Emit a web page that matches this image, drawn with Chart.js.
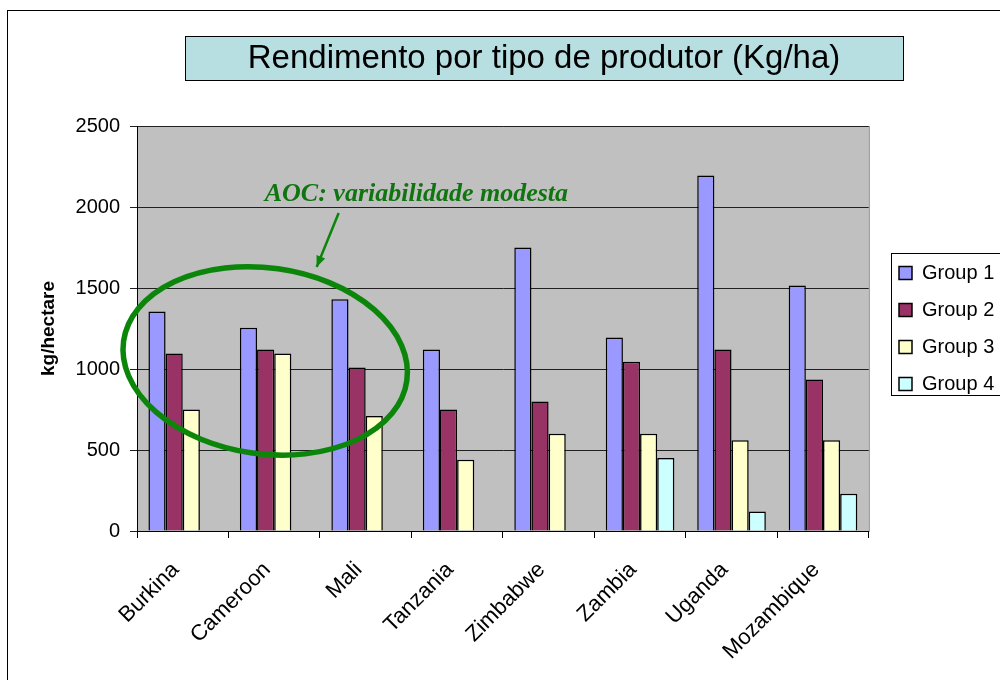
<!DOCTYPE html>
<html>
<head>
<meta charset="utf-8">
<script src="https://cdn.jsdelivr.net/npm/chart.js@4.4.0/dist/chart.umd.min.js"></script>
<style>
  html, body { margin: 0; padding: 0; background: #fff; }
  #wrap { width: 1000px; height: 680px; overflow: hidden; }
</style>
</head>
<body>
<div id="wrap"><canvas id="yieldChart" width="1000" height="680"></canvas></div>
<script>
// categorias e valores (kg/ha)
const countries = ['Burkina', 'Cameroon', 'Mali', 'Tanzania', 'Zimbabwe', 'Zambia', 'Uganda', 'Mozambique'];
const group1 = [1355, 1255, 1430, 1120, 1750, 1195, 2195, 1515];
const group2 = [1095, 1120, 1010, 750, 800, 1045, 1120, 935];
const group3 = [750, 1095, 710, 440, 600, 600, 560, 560];
const group4 = [null, null, null, null, null, 450, 120, 230];
const seriesNames = ['Group 1', 'Group 2', 'Group 3', 'Group 4'];
const seriesColors = ['#9999FF', '#993366', '#FFFFCC', '#CCFFFF'];
const yTicks = [0, 500, 1000, 1500, 2000, 2500];

const chartTitle = 'Rendimento por tipo de produtor (Kg/ha)';
const yTitle = 'kg/hectare';
const noteText = 'AOC: variabilidade modesta';

const FONT = 'Arial, "Liberation Sans", sans-serif';
const GREEN = '#0B860B';

// fundo, moldura, título em caixa e caixa da legenda
const frame = {
    id: 'frame',
    afterLayout(chart) {
        // legenda um pouco afastada da área do gráfico
        const lg = chart.legend;
        const dx = 882 - lg.left;
        lg.left += dx;
        lg.right += dx;
    },
    beforeDraw(chart) {
        const ctx = chart.ctx;
        const a = chart.chartArea;
        ctx.save();
        ctx.fillStyle = '#fff';
        ctx.fillRect(0, 0, chart.width, chart.height);
        ctx.strokeStyle = '#000';
        ctx.lineWidth = 1;
        ctx.strokeRect(7.5, 10.5, 1100, 800);
        // área do gráfico
        ctx.fillStyle = '#C0C0C0';
        ctx.fillRect(a.left, a.top, a.right - a.left, a.bottom - a.top);
        ctx.strokeStyle = '#808080';
        ctx.strokeRect(a.left + 0.5, a.top + 0.5, a.right - a.left, a.bottom - a.top);
        // caixa do título
        ctx.fillStyle = '#B7DFE2';
        ctx.fillRect(185, 36, 718, 44);
        ctx.strokeStyle = '#000';
        ctx.strokeRect(185.5, 36.5, 718, 44);
        ctx.fillStyle = '#000';
        ctx.font = '33px ' + FONT;
        ctx.textAlign = 'center';
        ctx.textBaseline = 'middle';
        ctx.fillText(chartTitle, 544, 59);
        ctx.restore();
    },
    afterDraw(chart) {
        const ctx = chart.ctx;
        const boxes = chart.legend.legendHitBoxes;
        if (!boxes || !boxes.length) return;
        const first = boxes[0], last = boxes[boxes.length - 1];
        ctx.save();
        ctx.strokeStyle = '#000';
        ctx.lineWidth = 1;
        const top = Math.round(first.top - 10) + 0.5;
        const bottom = Math.round(last.top + last.height + 1) + 0.5;
        const left = Math.round(first.left - 8) + 0.5;
        ctx.strokeRect(left, top, 200, bottom - top);
        ctx.restore();
    }
};

// anotação: elipse, seta e texto em verde
const note = {
    id: 'note',
    afterDatasetsDraw(chart) {
        const ctx = chart.ctx;
        const x = chart.scales.x, y = chart.scales.y;
        const cx = x.getPixelForValue(1) - 9;
        const cy = y.getPixelForValue(1050);
        ctx.save();
        ctx.strokeStyle = GREEN;
        ctx.lineWidth = 5.5;
        ctx.beginPath();
        ctx.ellipse(cx, cy, 143, 93, 0.14, 0, Math.PI * 2);
        ctx.stroke();

        // seta
        const x1 = x.getPixelForValue(2) - 27, y1 = y.getPixelForValue(1963);
        const x2 = x.getPixelForValue(2) - 49, y2 = y.getPixelForValue(1630);
        ctx.lineWidth = 2.5;
        ctx.beginPath();
        ctx.moveTo(x1, y1);
        ctx.lineTo(x2, y2);
        ctx.stroke();
        const ang = Math.atan2(y2 - y1, x2 - x1);
        ctx.fillStyle = GREEN;
        ctx.beginPath();
        ctx.moveTo(x2, y2);
        ctx.lineTo(x2 - 12 * Math.cos(ang - 0.4), y2 - 12 * Math.sin(ang - 0.4));
        ctx.lineTo(x2 - 12 * Math.cos(ang + 0.4), y2 - 12 * Math.sin(ang + 0.4));
        ctx.closePath();
        ctx.fill();

        // texto
        ctx.fillStyle = '#107510';
        ctx.font = 'italic bold 26px "Liberation Serif", "DejaVu Serif", serif';
        ctx.textAlign = 'center';
        ctx.textBaseline = 'middle';
        ctx.fillText(noteText, (x.getPixelForValue(2) + x.getPixelForValue(3)) / 2 + 5, y.getPixelForValue(2080));
        ctx.restore();
    }
};

const datasets = [group1, group2, group3, group4].map((vals, i) => ({
    label: seriesNames[i],
    data: vals,
    backgroundColor: seriesColors[i],
    borderColor: '#000',
    borderWidth: 1.5,
    categoryPercentage: 0.75,
    barPercentage: 1
}));

new Chart(document.getElementById('yieldChart'), {
    type: 'bar',
    data: { labels: countries, datasets },
    options: {
        responsive: false,
        animation: false,
        layout: { padding: { top: 126, left: 37, right: 9, bottom: 0 } },
        plugins: {
            legend: {
                position: 'right',
                fullSize: false,
                labels: {
                    boxWidth: 13,
                    boxHeight: 13,
                    padding: 17,
                    color: '#000',
                    font: { size: 20, family: FONT }
                }
            },
            tooltip: { enabled: false }
        },
        scales: {
            x: {
                grid: { offset: true, drawOnChartArea: false, tickLength: 7, color: '#000' },
                border: { color: '#000' },
                ticks: { maxRotation: 45, minRotation: 45, color: '#000', padding: 19, labelOffset: -7, font: { size: 22, family: FONT } },
                afterFit(scale) { scale.height = 149; }
            },
            y: {
                min: 0,
                max: 2500,
                afterBuildTicks(scale) { scale.ticks = yTicks.map(v => ({ value: v })); },
                grid: { color: '#202020', tickLength: 7 },
                border: { color: '#000' },
                ticks: { color: '#000', padding: 10, font: { size: 20, family: FONT }, callback: v => String(v) },
                title: { display: true, text: yTitle, color: '#000', padding: 0, font: { size: 19, weight: 'bold', family: FONT } },
                afterFit(scale) { scale.width = 100; }
            }
        }
    },
    plugins: [frame, note]
});
</script>
</body>
</html>
